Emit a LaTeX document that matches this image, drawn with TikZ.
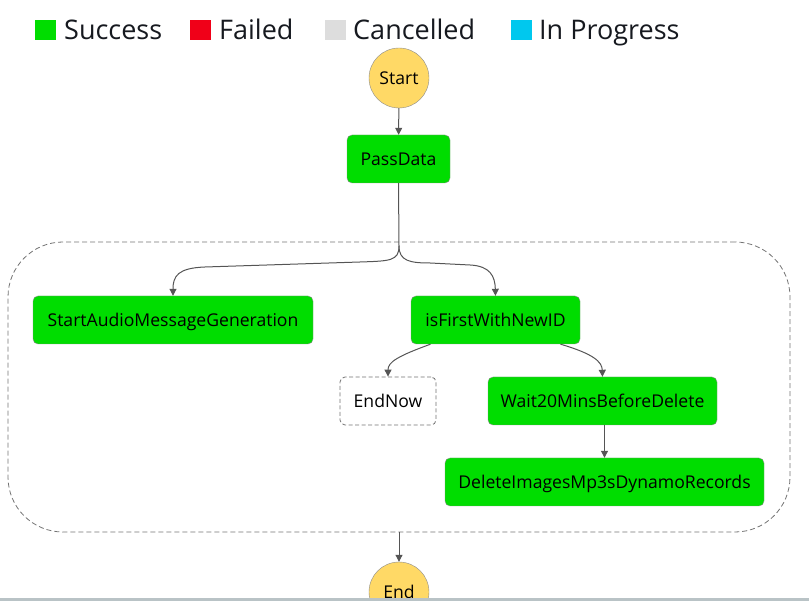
\documentclass[tikz,border=0pt]{standalone}
\usepackage{fontspec}
\setmainfont{Open Sans}
\usetikzlibrary{arrows.meta}
\definecolor{okgreen}{HTML}{00DD00}
\definecolor{badred}{HTML}{F00018}
\definecolor{stopgray}{HTML}{DDDDDD}
\definecolor{runblue}{HTML}{00C8EE}
\definecolor{startyellow}{HTML}{FFD966}
\definecolor{edgegray}{HTML}{555555}
\definecolor{inkdark}{HTML}{16191F}
\definecolor{barblue}{HTML}{B9C3C6}

\begin{document}
\begin{tikzpicture}[x=1pt, y=-1pt,
    state/.style={draw=black!45, fill=okgreen, rounded corners=5pt, minimum height=48pt,
      inner sep=0pt, text height=12.6pt, text depth=0pt, font=\fontsize{17.6}{20}\selectfont},
    passstate/.style={draw=black!55, line width=0.8pt, dash pattern=on 4pt off 2.5pt, fill=white,
      rounded corners=5pt, minimum height=48pt, inner sep=0pt, text height=12.6pt, text depth=0pt,
      font=\fontsize{17.6}{20}\selectfont},
    terminal/.style={circle, draw=black!45, fill=startyellow, minimum size=60pt, inner sep=0pt,
      text height=12.6pt, text depth=0pt, font=\fontsize{17.6}{20}\selectfont},
    groupbox/.style={draw=black!55, line width=0.8pt, dash pattern=on 5pt off 3pt, rounded corners=55pt,
      minimum width=782pt, minimum height=290pt},
    flow/.style={draw=edgegray, line width=1pt, -{Triangle[length=7pt, width=7pt]}},
    swatch/.style={minimum width=21pt, minimum height=20pt, inner sep=0pt},
    legendtext/.style={anchor=base west, inner sep=0pt, text=inkdark, font=\fontsize{27}{30}\selectfont}]
    \useasboundingbox (0,0) rectangle (809,601);
    \clip (0,0) rectangle (809,601);

    % legend
    \node[swatch, fill=okgreen] (sgreen) at (45.5,30) {};
    \node[legendtext] (lsuccess) at (64,40) {Success};
    \node[swatch, fill=badred] (sred) at (200.5,30) {};
    \node[legendtext] (lfailed) at (219,40) {Failed};
    \node[swatch, fill=stopgray] (sgray) at (335.5,30) {};
    \node[legendtext] (lcancelled) at (353,40) {Cancelled};
    \node[swatch, fill=runblue] (sblue) at (521.5,30) {};
    \node[legendtext] (lprogress) at (539,40) {In Progress};

    % states
    \node[groupbox] (group) at (399,387) {};
    \node[terminal] (start) at (399,78) {Start};
    \node[state, minimum width=103pt] (pass) at (398.5,159) {PassData};
    \node[state, minimum width=280pt] (audio) at (173,320) {StartAudioMessageGeneration};
    \node[state, minimum width=169pt] (isfirst) at (495.5,320) {isFirstWithNewID};
    \node[passstate, minimum width=96pt] (endnow) at (388,401) {EndNow};
    \node[state, minimum width=229pt] (wait) at (602.5,401) {Wait20MinsBeforeDelete};
    \node[state, minimum width=319pt] (delete) at (604.5,482) {DeleteImagesMp3sDynamoRecords};
    \node[terminal] (end) at (399,592) {End};

    % transitions
    \draw[flow] (start) -- (pass);
    \coordinate (fork) at (399,246);
    \draw[flow] (pass.south) -- (fork) .. controls (399,261) and (390,261) .. (360,262)
      -- (205,267) .. controls (178,268) and (173,276) .. (audio.north);
    \draw[flow] (fork) .. controls (399,261) and (410,263) .. (430,263)
      -- (470,265) .. controls (490,266) and (495,276) .. (isfirst.north);
    \draw[flow] ([xshift=-65pt]isfirst.south) .. controls (398,356) and (388,362) .. (endnow.north);
    \draw[flow] ([xshift=65pt]isfirst.south) .. controls (594,354) and (602,362) .. (wait.north);
    \draw[flow] (wait.south -| delete.north) -- (delete.north);
    \draw[flow] (group.south) -- (end.north);

    \fill[barblue] (0,598) rectangle (809,601);
  \end{tikzpicture}
\end{document}
